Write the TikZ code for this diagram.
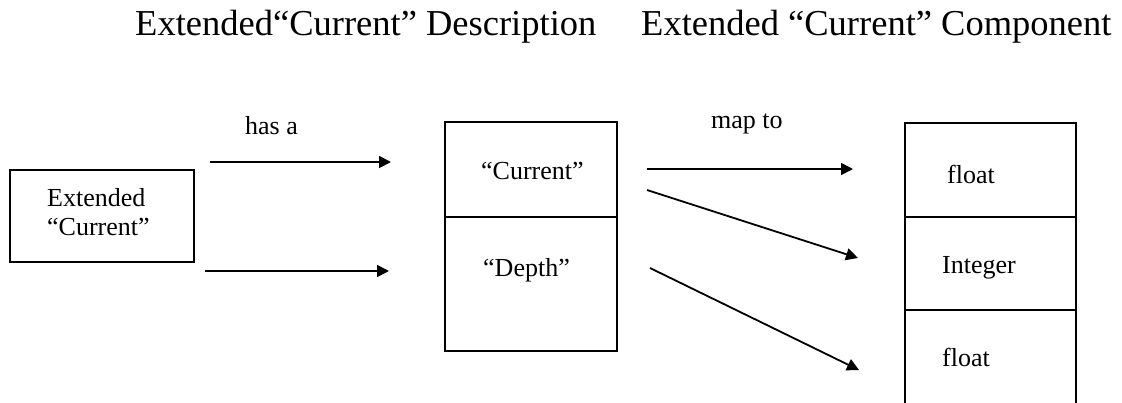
\documentclass[tikz,border=0pt]{standalone}
\usepackage{fontspec}
\setmainfont{Liberation Serif}
\usetikzlibrary{arrows.meta}
\begin{document}
\begin{tikzpicture}[x=1pt,y=-1pt,
  cell/.style={draw,line width=1.8pt,inner sep=0pt,outer sep=0pt,anchor=north west},
  lbl/.style={font=\fontsize{26}{29}\selectfont,inner sep=0pt,anchor=base west},
  head/.style={font=\fontsize{36.5}{40}\selectfont,inner sep=0pt,anchor=base west},
  conn/.style={line width=1.8pt,-{Triangle[length=12pt,width=12pt]}}]
\useasboundingbox (0,0) rectangle (1122,402);

% headings
\node[head] (hd1) at (135,35) {Extended“Current” Description};
\node[head] (hd2) at (641,35) {Extended “Current” Component};

% source box
\node[cell,minimum width=184pt,minimum height=92pt] (ext) at (10,170) {};
\node[font=\fontsize{26}{29}\selectfont,inner sep=0pt,align=left,anchor=north west] (extT) at (47,188) {Extended\\“Current”};

% description cells
\node[cell,minimum width=172pt,minimum height=95pt] (cur) at (445,122) {};
\node[cell,minimum width=172pt,minimum height=134pt] (dep) at (445,217) {};
\node[lbl] (curT) at (481,179) {“Current”};
\node[lbl] (depT) at (483,276) {“Depth”};

% component cells
\node[cell,minimum width=171pt,minimum height=94pt] (flA) at (905,123) {};
\node[cell,minimum width=171pt,minimum height=93pt] (intg) at (905,217) {};
\coordinate (flBl) at (905,404);
\coordinate (flBr) at (1076,404);
\draw[line width=1.8pt] (flBl) -- (intg.south west) -- (intg.south east) -- (flBr);
\node[lbl] (flAT) at (947,183) {float};
\node[lbl] (intT) at (942,273) {Integer};
\node[lbl] (flBT) at (942,366) {float};

% "has a" connectors
\coordinate (h1s) at (210,162);
\coordinate (h1e) at (391,162);
\coordinate (h2s) at (205,271);
\coordinate (h2e) at (389,271);
\draw[conn] (h1s) -- (h1e);
\draw[conn] (h2s) -- (h2e);
\node[lbl] (hasa) at (245,134) {has a};

% "map to" connectors
\coordinate (m1s) at (647,169);
\coordinate (m1e) at (853,169);
\coordinate (m2s) at (647,190);
\coordinate (m2e) at (858,258);
\coordinate (m3s) at (650,268);
\coordinate (m3e) at (859,370);
\draw[conn] (m1s) -- (m1e);
\draw[conn] (m2s) -- (m2e);
\draw[conn] (m3s) -- (m3e);
\node[lbl] (mapto) at (711,128) {map to};
\end{tikzpicture}
\end{document}
